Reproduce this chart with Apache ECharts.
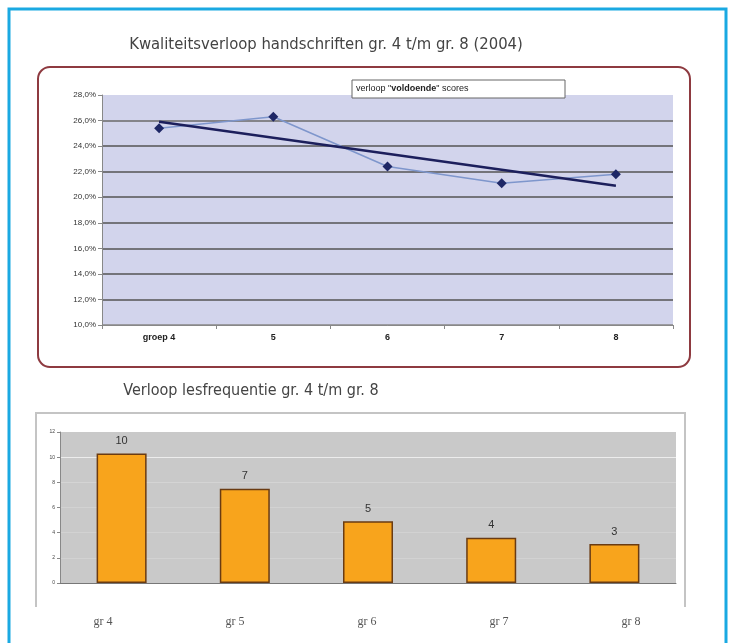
<!DOCTYPE html>
<html>
<head>
<meta charset="utf-8">
<script src="https://cdn.jsdelivr.net/npm/echarts@6/dist/echarts.min.js"></script>
<style>
html,body{margin:0;padding:0;background:#fff;}
#c{width:735px;height:643px;}
</style>
</head>
<body>
<div id="c"></div>
<script>
// ---- data: top chart (quality trend) ----
const qualityCategories = ['groep 4', '5', '6', '7', '8'];
const voldoendePct = [25.4, 26.3, 22.4, 21.1, 21.8];
const trendPct = [25.9, null, null, null, 20.9];
const qualityTitle = 'Kwaliteitsverloop handschriften gr. 4 t/m gr. 8 (2004)';

// ---- data: bottom chart (lesson frequency) ----
const freqCategories = ['gr 4', 'gr 5', 'gr 6', 'gr 7', 'gr 8'];
const freqValues = [10.3, 7.5, 4.9, 3.6, 3.1];
const freqLabels = ['10', '7', '5', '4', '3'];
const freqTitle = 'Verloop lesfrequentie gr. 4 t/m gr. 8';

const chart = echarts.init(document.getElementById('c'), null, {renderer: 'canvas'});
const titleFont = '"Liberation Sans Narrow", "DejaVu Sans Condensed", "Liberation Sans", sans-serif';

const option = {
  backgroundColor: '#ffffff',
  animation: false,
  graphic: [
    { type: 'rect', z: -10, shape: {x: 9, y: 9, width: 717, height: 700},
      style: {fill: '#ffffff', stroke: '#1aa9e2', lineWidth: 3} },
    { type: 'rect', z: -5, shape: {x: 38, y: 67, width: 652, height: 300, r: 12},
      style: {fill: '#ffffff', stroke: '#8e3a40', lineWidth: 2} },
    { type: 'polyline', z: -5, shape: {points: [[36, 607], [36, 413], [685, 413], [685, 607]]},
      style: {fill: null, stroke: '#c4c4c4', lineWidth: 2} },
    { type: 'text', x: 326, y: 45,
      style: {text: qualityTitle, font: '16.5px ' + titleFont, fill: '#444', align: 'center', verticalAlign: 'middle'} },
    { type: 'text', x: 251, y: 391,
      style: {text: freqTitle, font: '16px ' + titleFont, fill: '#444', align: 'center', verticalAlign: 'middle'} },
    { type: 'rect', z: 20, shape: {x: 352, y: 80, width: 213, height: 18},
      style: {fill: '#ffffff', stroke: '#666', lineWidth: 1} },
    { type: 'text', z: 21, x: 356, y: 89,
      style: {text: 'verloop "{b|voldoende}" scores', fontSize: 9, fontFamily: 'Liberation Sans, Arial, sans-serif',
        fill: '#222', verticalAlign: 'middle',
        rich: {b: {fontWeight: 'bold', fontSize: 9, fontFamily: 'Liberation Sans, Arial, sans-serif', fill: '#222'}}} }
  ],
  grid: [
    {left: 102, top: 95, width: 571, height: 230, show: true, backgroundColor: '#d2d4ec', borderWidth: 0},
    {left: 60, top: 432, width: 616, height: 151, show: true, backgroundColor: '#c9c9c9', borderWidth: 0},
    {left: 37, top: 583, width: 660, height: 1, show: false}
  ],
  xAxis: [
    { gridIndex: 0, type: 'category', data: qualityCategories, boundaryGap: true,
      axisLine: {lineStyle: {color: '#888', width: 1}},
      axisTick: {show: true, length: 4, lineStyle: {color: '#888'}},
      axisLabel: {fontSize: 9, fontWeight: 'bold', color: '#222', margin: 8, fontFamily: 'Liberation Sans, Arial, sans-serif'} },
    { gridIndex: 1, type: 'category', data: freqCategories, boundaryGap: true,
      axisLine: {lineStyle: {color: '#777', width: 1}},
      axisTick: {show: false}, axisLabel: {show: false} },
    { gridIndex: 2, type: 'category', data: freqCategories, boundaryGap: true,
      axisLine: {show: false}, axisTick: {show: false},
      axisLabel: {fontSize: 12, color: '#555', margin: 32, fontFamily: '"Liberation Serif", "DejaVu Serif", serif'} }
  ],
  yAxis: [
    { gridIndex: 0, type: 'value', min: 10, max: 28, interval: 2,
      axisLine: {show: true, lineStyle: {color: '#888'}},
      axisTick: {show: true, length: 4, lineStyle: {color: '#888'}},
      axisLabel: {fontSize: 8, color: '#333', margin: 6, fontFamily: 'Liberation Sans, Arial, sans-serif',
        formatter: v => v.toFixed(1).replace('.', ',') + '%'},
      splitLine: {show: true, lineStyle: {width: 1.6,
        color: ['#888', '#555', '#555', '#555', '#555', '#555', '#555', '#555', '#6a6a6a', 'rgba(0,0,0,0)']}} },
    { gridIndex: 1, type: 'value', min: 0, max: 12, interval: 2,
      axisLine: {show: true, lineStyle: {color: '#888'}},
      axisTick: {show: true, length: 3, lineStyle: {color: '#888'}},
      axisLabel: {fontSize: 5, color: '#444', margin: 5},
      splitLine: {show: true, lineStyle: {width: 1,
        color: ['rgba(0,0,0,0)', '#d2d2d2', '#d2d2d2', '#d2d2d2', '#d4d4d4', '#ececec', 'rgba(0,0,0,0)']}} },
    { gridIndex: 2, type: 'value', show: false }
  ],
  series: [
    { type: 'line', xAxisIndex: 0, yAxisIndex: 0, data: voldoendePct,
      lineStyle: {color: '#7e96cc', width: 1.5},
      symbol: 'diamond', symbolSize: 10, itemStyle: {color: '#1e2766'}, z: 3 },
    { type: 'line', xAxisIndex: 0, yAxisIndex: 0, data: trendPct, connectNulls: true,
      lineStyle: {color: '#1c1f5c', width: 2.5}, symbol: 'none', z: 4 },
    { type: 'bar', xAxisIndex: 1, yAxisIndex: 1, data: freqValues, barWidth: 50,
      itemStyle: {color: '#f8a41c', borderColor: '#6a3b12', borderWidth: 1.5},
      label: {show: true, position: 'top', distance: 7, fontSize: 11, color: '#333',
        fontFamily: 'Liberation Sans, Arial, sans-serif',
        formatter: p => freqLabels[p.dataIndex]} }
  ]
};
chart.setOption(option);
</script>
</body>
</html>
